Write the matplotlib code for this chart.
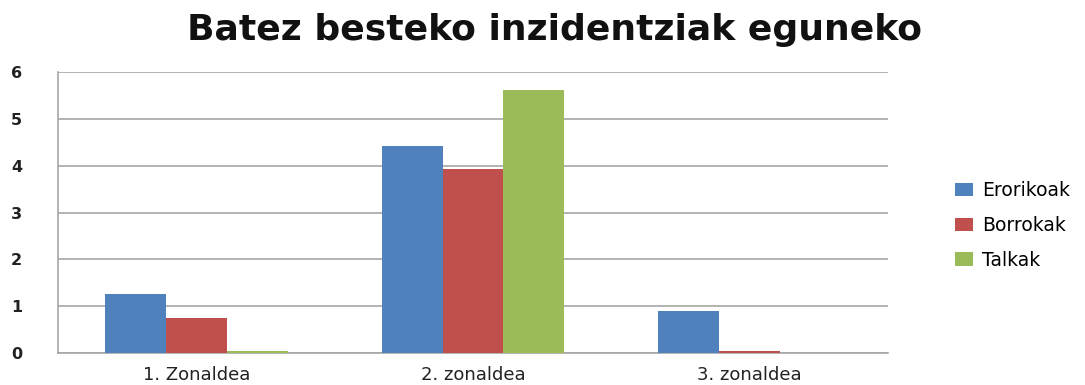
import matplotlib.pyplot as plt
import numpy as np

# Zonaldeak eta serieak
zonaldeak = ["1. Zonaldea", "2. zonaldea", "3. zonaldea"]
erorikoak = [1.27, 4.42, 0.90]
borrokak = [0.75, 3.93, 0.04]
talkak = [0.04, 5.62, 0.0]

serieak = [
    ("Erorikoak", erorikoak, "#4F81BD"),
    ("Borrokak", borrokak, "#C0504D"),
    ("Talkak", talkak, "#9BBB59"),
]


def main():
    fig = plt.figure(figsize=(10.85, 3.85), dpi=100)
    ax = fig.add_axes([0.0535, 0.083, 0.765, 0.73])

    x = np.arange(len(zonaldeak))
    width = 0.22
    for i, (izena, balioak, kolorea) in enumerate(serieak):
        ax.bar(x + (i - 1) * width, balioak, width, color=kolorea,
               label=izena, zorder=3)

    ax.set_xlim(-0.5, len(zonaldeak) - 0.5)
    ax.set_ylim(0, 6)
    ax.set_yticks(range(0, 7))
    ax.set_xticks(x)
    ax.set_xticklabels(zonaldeak)

    ax.yaxis.grid(True, color="#a6a6a6", linewidth=1.2, zorder=0)
    ax.set_axisbelow(True)
    for side in ("top", "right"):
        ax.spines[side].set_visible(False)
    for side in ("left", "bottom"):
        ax.spines[side].set_color("#a6a6a6")
        ax.spines[side].set_linewidth(1.2)

    ax.tick_params(axis="y", length=0, pad=34, labelsize=11.5, labelcolor="#222222")
    ax.tick_params(axis="x", length=0, pad=9, labelsize=13, labelcolor="#222222")
    for lbl in ax.get_yticklabels():
        lbl.set_fontweight("bold")
        lbl.set_horizontalalignment("left")

    fig.suptitle("Batez besteko inzidentziak eguneko", fontsize=26,
                 fontweight="bold", x=0.511, y=0.965, color="#111111")

    ax.legend(loc="center left", bbox_to_anchor=(1.06, 0.455), frameon=False,
              fontsize=13.5, handlelength=1.0, handleheight=0.7,
              handletextpad=0.45, labelspacing=0.85)

    fig.savefig("out.png", dpi=100)
    plt.close(fig)


if __name__ == "__main__":
    main()
